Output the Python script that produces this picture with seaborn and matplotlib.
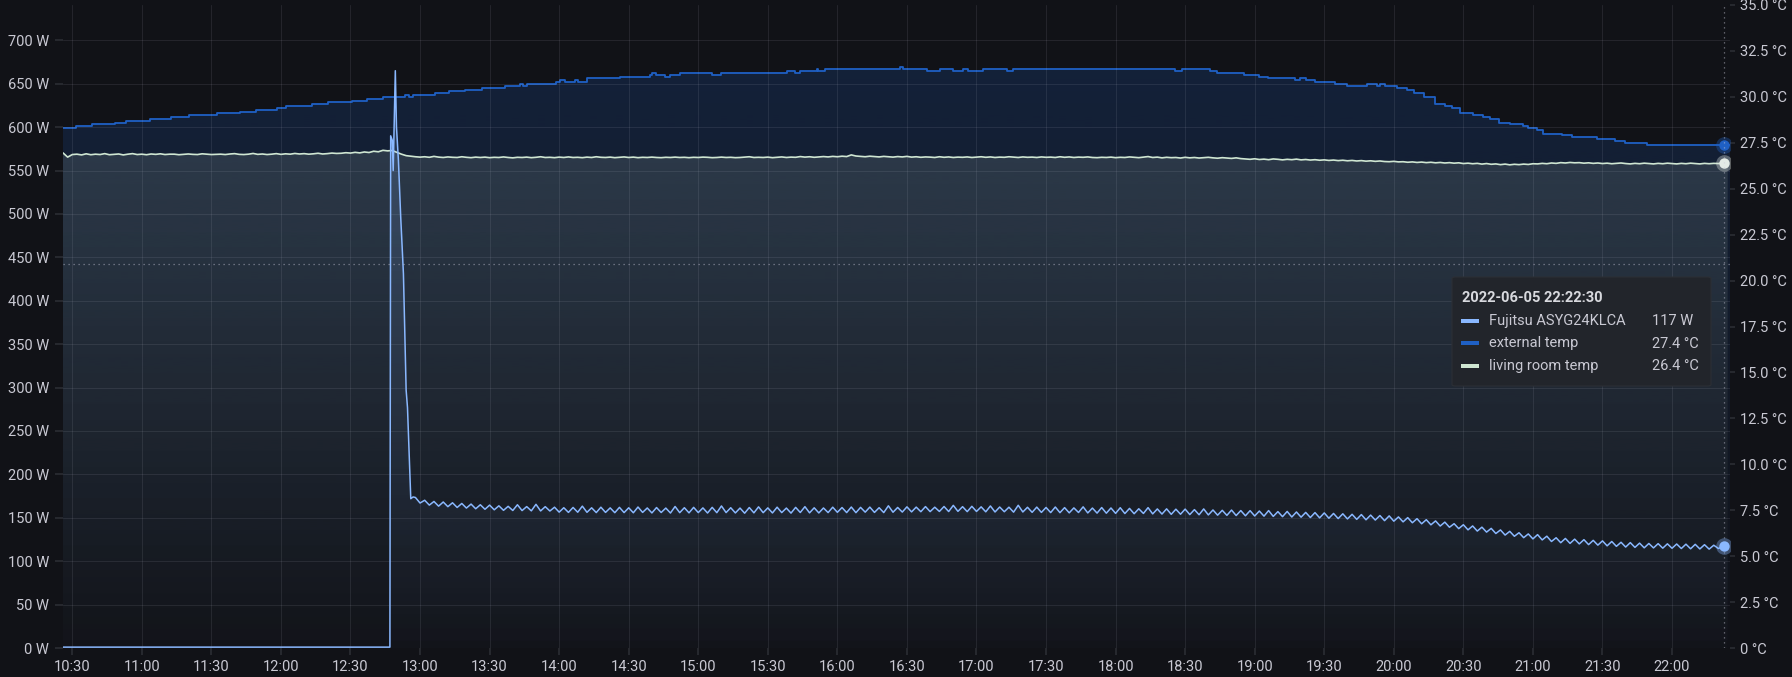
import numpy as np
import pandas as pd
import matplotlib
matplotlib.use('Agg')
import matplotlib.pyplot as plt
import matplotlib.dates as mdates
from matplotlib.colors import to_rgb
from matplotlib.patches import Rectangle, FancyBboxPatch
from matplotlib.ticker import FuncFormatter, MultipleLocator
import seaborn as sns


## data ...

DAY = '2022-06-05 '

## Fujitsu ASYG24KLCA power (W): idle, start-up spike, then 2 min samples from 12:58
power_spike_times = ['10:26:00', '12:47:00', '12:47:20', '12:48:00', '12:48:25', '12:48:50', '12:49:20',
                     '12:49:50', '12:50:40', '12:51:40', '12:52:50', '12:54:00', '12:54:35', '12:56:00',
                     '12:57:00']
power_spike_values = [1, 1, 590, 585, 550, 600, 665, 600, 562, 496, 431, 297, 277, 172, 174]
power_values = [
    173.4, 167.0, 170.2, 164.6, 168.8, 163.4, 168.2, 162.8, 167.3, 161.9, 166.5, 161.2, 165.8, 160.4, 165.0,
    159.8, 164.6, 159.2, 163.8, 158.6, 163.2, 158.4, 165.0, 158.3, 162.9, 158.0, 165.5, 157.9, 162.8, 157.8,
    162.2, 156.5, 161.6, 156.2, 161.9, 156.4, 163.4, 156.3, 161.5, 156.0, 162.2, 156.2, 161.4, 155.9, 162.0,
    156.0, 161.5, 155.8, 162.4, 156.2, 161.3, 155.6, 161.8, 156.1, 161.2, 155.5, 163.0, 155.9, 161.6, 155.7,
    162.0, 156.0, 161.4, 155.5, 162.0, 155.9, 163.6, 156.0, 161.6, 155.6, 161.2, 155.3, 161.8, 155.7, 162.6,
    155.9, 161.4, 155.6, 162.2, 156.0, 161.2, 155.4, 162.0, 156.1, 162.8, 155.7, 161.5, 155.6, 161.3, 156.0,
    162.2, 156.3, 161.8, 156.0, 162.4, 155.9, 162.0, 156.5, 162.3, 156.2, 161.6, 156.0, 163.8, 156.4, 161.9,
    156.6, 162.6, 156.8, 162.3, 157.0, 162.9, 157.1, 162.2, 157.3, 163.0, 157.2, 164.3, 157.4, 162.8, 157.1,
    163.2, 157.3, 162.6, 156.9, 163.6, 156.7, 162.4, 157.0, 162.2, 156.5, 164.4, 156.7, 162.1, 156.3, 162.3,
    156.2, 161.9, 156.0, 162.4, 155.9, 161.7, 155.7, 161.4, 156.1, 162.6, 155.6, 161.2, 155.4, 161.8, 155.3,
    161.3, 155.1, 161.6, 154.9, 160.8, 154.7, 160.4, 155.0, 161.7, 154.5, 160.2, 154.3, 160.3, 154.0, 159.9,
    154.1, 160.0, 153.7, 159.4, 153.5, 160.2, 153.3, 159.0, 153.0, 158.6, 152.8, 158.9, 152.6, 158.3, 152.3,
    158.2, 152.1, 157.8, 151.9, 158.3, 151.6, 157.1, 151.3, 157.3, 150.9, 156.7, 150.7, 156.2, 150.3, 156.0,
    149.9, 155.6, 149.5, 155.0, 149.1, 154.6, 148.7, 154.0, 148.2, 153.7, 147.7, 153.1, 147.4, 152.6, 146.7,
    152.2, 146.1, 151.0, 145.3, 150.2, 144.3, 149.0, 143.1, 147.8, 141.9, 146.4, 140.5, 145.0, 139.1, 143.2,
    137.5, 142.0, 136.1, 140.6, 134.7, 139.2, 133.5, 137.8, 131.9, 136.0, 130.1, 134.4, 128.7, 132.8, 127.1,
    131.4, 125.7, 130.6, 124.5, 128.8, 122.7, 127.0, 121.3, 126.2, 120.5, 125.4, 119.9, 124.8, 119.1, 124.0,
    118.5, 123.4, 117.7, 122.7, 117.1, 121.8, 116.3, 121.4, 115.9, 120.8, 115.4, 120.4, 115.3, 120.2, 115.0,
    120.0, 114.9, 119.8, 114.6, 119.6, 114.3, 119.4, 114.1, 119.0, 113.9, 118.4, 114.6, 117.0, 116.6,
]

## external temp (°C): value changes (step series)
ext_times = ['10:26:00', '10:31:40', '10:38:30', '10:48:30', '10:53:20', '11:03:40', '11:12:40', '11:20:30',
             '11:32:20', '11:42:20', '11:49:10', '11:58:20', '12:02:20', '12:13:20', '12:20:30', '12:30:40',
             '12:37:10', '12:44:10', '12:53:40', '12:55:20', '12:57:10', '13:06:30', '13:12:20', '13:19:30',
             '13:26:40', '13:36:40', '13:43:10', '13:44:30', '13:46:00', '13:58:40', '14:00:20', '14:02:40',
             '14:06:50', '14:08:10', '14:11:50', '14:26:20', '14:39:10', '14:40:10', '14:41:50', '14:45:40',
             '14:47:50', '14:52:10', '15:05:50', '15:09:50', '15:38:20', '15:41:50', '15:43:50', '15:51:00',
             '15:51:40', '15:54:40', '16:27:00', '16:28:20', '16:38:30', '16:44:20', '16:49:50', '16:54:10',
             '16:56:20', '17:02:50', '17:13:00', '17:15:50', '18:25:40', '18:28:30', '18:40:40', '18:43:40',
             '18:55:10', '19:01:40', '19:05:50', '19:17:20', '19:19:30', '19:22:20', '19:26:00', '19:34:40',
             '19:39:40', '19:48:20', '19:52:40', '19:54:00', '19:56:10', '20:01:20', '20:05:40', '20:08:30',
             '20:12:50', '20:17:50', '20:22:10', '20:25:00', '20:28:30', '20:34:20', '20:38:40', '20:41:30',
             '20:45:10', '20:50:10', '20:55:50', '20:58:00', '21:01:40', '21:04:30', '21:12:20', '21:16:40',
             '21:27:30', '21:35:20', '21:39:40', '21:49:00', '22:25:00']
ext_values = [28.3, 28.4, 28.5, 28.6, 28.7, 28.8, 28.9, 29.0,
              29.1, 29.2, 29.3, 29.4, 29.5, 29.6, 29.7, 29.8,
              29.9, 30.0, 30.1, 30.0, 30.1, 30.2, 30.3, 30.4,
              30.5, 30.6, 30.7, 30.6, 30.7, 30.8, 30.9, 30.8,
              30.9, 30.8, 31.0, 31.1, 31.2, 31.3, 31.2, 31.1,
              31.2, 31.3, 31.2, 31.3, 31.4, 31.3, 31.4, 31.5,
              31.4, 31.5, 31.6, 31.5, 31.4, 31.5, 31.4, 31.5,
              31.4, 31.5, 31.4, 31.5, 31.4, 31.5, 31.4, 31.3,
              31.2, 31.1, 31.0, 30.9, 31.0, 30.9, 30.8, 30.7,
              30.6, 30.7, 30.6, 30.7, 30.6, 30.5, 30.4, 30.2,
              30.0, 29.6, 29.5, 29.4, 29.1, 29.0, 28.9, 28.8,
              28.6, 28.5, 28.4, 28.3, 28.2, 28.0, 27.9, 27.8,
              27.7, 27.6, 27.5, 27.4, 27.4]

## living room temp (°C): 2 min samples from 10:26
living_values = [
    26.95, 26.72, 26.86, 26.88, 26.84, 26.90, 26.85, 26.88, 26.86, 26.91, 26.85, 26.87, 26.89, 26.84, 26.88,
    26.91, 26.86, 26.88, 26.85, 26.89, 26.87, 26.90, 26.86, 26.88, 26.88, 26.85, 26.87, 26.89, 26.87, 26.86,
    26.90, 26.88, 26.86, 26.87, 26.88, 26.86, 26.89, 26.91, 26.87, 26.86, 26.88, 26.92, 26.87, 26.89, 26.86,
    26.88, 26.91, 26.87, 26.90, 26.88, 26.92, 26.89, 26.91, 26.88, 26.90, 26.93, 26.89, 26.91, 26.94, 26.92,
    26.93, 26.96, 26.94, 26.98, 26.95, 27.00, 26.97, 27.04, 27.01, 27.09, 27.06, 27.08, 26.98, 26.88, 26.80,
    26.77, 26.74, 26.72, 26.74, 26.71, 26.76, 26.72, 26.70, 26.73, 26.71, 26.70, 26.74, 26.71, 26.69, 26.72,
    26.70, 26.72, 26.69, 26.71, 26.70, 26.73, 26.70, 26.68, 26.71, 26.70, 26.72, 26.69, 26.71, 26.74, 26.70,
    26.71, 26.69, 26.72, 26.70, 26.73, 26.70, 26.71, 26.69, 26.72, 26.70, 26.74, 26.71, 26.70, 26.72, 26.69,
    26.71, 26.73, 26.70, 26.72, 26.69, 26.71, 26.70, 26.72, 26.70, 26.69, 26.71, 26.70, 26.72, 26.70, 26.71,
    26.69, 26.71, 26.70, 26.72, 26.71, 26.69, 26.70, 26.72, 26.70, 26.71, 26.69, 26.70, 26.72, 26.74, 26.70,
    26.71, 26.70, 26.72, 26.69, 26.71, 26.73, 26.70, 26.72, 26.71, 26.75, 26.72, 26.74, 26.71, 26.73, 26.75,
    26.73, 26.76, 26.74, 26.77, 26.75, 26.84, 26.78, 26.76, 26.74, 26.77, 26.75, 26.73, 26.76, 26.74, 26.72,
    26.75, 26.73, 26.76, 26.72, 26.74, 26.71, 26.73, 26.72, 26.70, 26.74, 26.71, 26.73, 26.70, 26.72, 26.71,
    26.73, 26.70, 26.72, 26.74, 26.71, 26.73, 26.70, 26.72, 26.71, 26.74, 26.72, 26.70, 26.73, 26.71, 26.72,
    26.70, 26.73, 26.71, 26.72, 26.70, 26.74, 26.71, 26.73, 26.70, 26.72, 26.71, 26.73, 26.70, 26.69, 26.71,
    26.70, 26.72, 26.69, 26.71, 26.70, 26.73, 26.71, 26.69, 26.72, 26.75, 26.70, 26.72, 26.68, 26.71, 26.69,
    26.70, 26.67, 26.71, 26.68, 26.70, 26.67, 26.69, 26.71, 26.68, 26.66, 26.69, 26.67, 26.65, 26.68, 26.64,
    26.62, 26.60, 26.63, 26.59, 26.61, 26.58, 26.62, 26.60, 26.57, 26.60, 26.58, 26.61, 26.57, 26.59, 26.56,
    26.58, 26.55, 26.57, 26.54, 26.56, 26.53, 26.55, 26.52, 26.54, 26.51, 26.53, 26.50, 26.52, 26.49, 26.51,
    26.48, 26.47, 26.49, 26.46, 26.47, 26.44, 26.46, 26.43, 26.45, 26.42, 26.44, 26.41, 26.43, 26.40, 26.42,
    26.39, 26.41, 26.37, 26.39, 26.36, 26.38, 26.34, 26.37, 26.33, 26.35, 26.31, 26.34, 26.30, 26.33, 26.31,
    26.34, 26.32, 26.36, 26.35, 26.38, 26.36, 26.40, 26.38, 26.42, 26.40, 26.43, 26.41, 26.42, 26.39, 26.41,
    26.38, 26.40, 26.37, 26.39, 26.36, 26.38, 26.40, 26.37, 26.35, 26.38, 26.36, 26.39, 26.37, 26.35, 26.38,
    26.36, 26.39, 26.37, 26.35, 26.38, 26.36, 26.39, 26.37, 26.35, 26.38, 26.36, 26.38, 26.37, 26.40, 26.39,
]

## hover tooltip
cursor_time = '22:22:30'
cursor_power = 442
tooltip_title = '2022-06-05 22:22:30'
series_names = ['Fujitsu ASYG24KLCA', 'external temp', 'living room temp']
tooltip_values = [117, 27.4, 26.4]
tooltip_labels = ['117 W', '27.4 °C', '26.4 °C']


## build frames
power_df = pd.concat([
    pd.DataFrame({'time': pd.to_datetime([DAY + t for t in power_spike_times]), 'watts': power_spike_values}),
    pd.DataFrame({'time': pd.date_range(DAY + '12:58', periods=len(power_values), freq='2min'), 'watts': power_values}),
], ignore_index=True)
ext_df = pd.DataFrame({'time': pd.to_datetime([DAY + t for t in ext_times]), 'temp': ext_values})
living_df = pd.DataFrame({'time': pd.date_range(DAY + '10:26', periods=len(living_values), freq='2min'),
                          'temp': living_values})

## colours
BG = '#111217'
TEXT = '#c9c9d3'
GRID = '#2a2c32'
POWER_C = '#8ab8ff'
EXT_C = '#1f60c4'
LIVING_C = '#cfe6d2'
SERIES_C = [POWER_C, EXT_C, LIVING_C]

sns.set_theme(style='dark', rc={'axes.facecolor': BG, 'figure.facecolor': BG})
plt.rcParams['font.family'] = ['Roboto', 'DejaVu Sans']

W, H = 1792, 677
fig = plt.figure(figsize=(W / 100, H / 100), dpi=100, facecolor=BG)
ax = fig.add_axes([63 / W, (H - 648) / H, (1730 - 63) / W, (648 - 5) / H])
ax2 = ax.twinx()
ax.set_zorder(2)
ax2.set_zorder(1)
ax.patch.set_visible(False)
ax2.patch.set_visible(False)


def gradient_fill(axis, x, y, color, top_alpha, step=None):
    ## fill under a series, fading out towards the bottom of the panel
    poly = axis.fill_between(x, 0, y, step=step, facecolor='none', edgecolor='none')
    grad = np.zeros((256, 1, 4))
    grad[:, 0, :3] = to_rgb(color)
    grad[:, 0, 3] = np.linspace(top_alpha, 0.01, 256)
    im = axis.imshow(grad, extent=[0, 1, 0, 1], transform=axis.transAxes, aspect='auto',
                     origin='upper', interpolation='bilinear', zorder=1)
    im.set_clip_path(poly.get_paths()[0], axis.transData)


## temperatures (right axis)
gradient_fill(ax2, ext_df['time'], ext_df['temp'], EXT_C, 0.22, step='post')
gradient_fill(ax2, living_df['time'], living_df['temp'], LIVING_C, 0.17)
sns.lineplot(x=ext_df['time'], y=ext_df['temp'], ax=ax2, color=EXT_C, lw=1.3,
             estimator=None, drawstyle='steps-post', zorder=3)
sns.lineplot(x=living_df['time'], y=living_df['temp'], ax=ax2, color=LIVING_C, lw=1.2,
             estimator=None, zorder=3)

## power (left axis)
gradient_fill(ax, power_df['time'], power_df['watts'], POWER_C, 0.2)
sns.lineplot(x=power_df['time'], y=power_df['watts'], ax=ax, color=POWER_C, lw=1.1,
             estimator=None, sort=False, zorder=3)

## crosshair + hover points
t_cur = pd.Timestamp(DAY + cursor_time)
ax.axvline(t_cur, color='#ccccdc', alpha=0.55, lw=0.9, ls=(0, (1, 3)), zorder=4)
ax.axhline(cursor_power, color='#ccccdc', alpha=0.55, lw=0.9, ls=(0, (1, 3)), zorder=4)
for axis, val, col in [(ax, tooltip_values[0], POWER_C), (ax2, tooltip_values[1], EXT_C),
                       (ax2, tooltip_values[2], '#e4ebe6')]:
    axis.plot([t_cur], [val], 'o', ms=12, color=col, alpha=0.35, mec='none', zorder=5)
    axis.plot([t_cur], [val], 'o', ms=7.5, color=col, mec='none', zorder=6)

## axes, ticks, grid
ax.set_xlim(pd.Timestamp(DAY + '10:26'), pd.Timestamp(DAY + '22:25'))
ax.set_ylim(0, 740.7)
ax2.set_ylim(0, 35)
ax.yaxis.set_major_locator(MultipleLocator(50))
ax.yaxis.set_major_formatter(FuncFormatter(lambda v, p: f'{v:.0f} W'))
ax2.yaxis.set_major_locator(MultipleLocator(2.5))
ax2.yaxis.set_major_formatter(FuncFormatter(lambda v, p: '0 °C' if v == 0 else f'{v:.1f} °C'))
ax.xaxis.set_major_locator(mdates.MinuteLocator(byminute=[0, 30]))
ax.xaxis.set_major_formatter(mdates.DateFormatter('%H:%M'))
ax.set_xlabel('')
ax.set_ylabel('')
ax2.set_ylabel('')

ax.grid(True, color='#ccccdc', alpha=0.1, lw=0.8)
ax2.grid(False)
ax.tick_params(axis='y', left=True, length=5.8, pad=4.3, color=GRID, labelcolor=TEXT, labelsize=10.5)
ax.tick_params(axis='x', bottom=True, length=5, pad=3.5, color=GRID, labelcolor=TEXT, labelsize=10.5)
ax2.tick_params(axis='y', right=True, length=3.6, pad=3.8, color=GRID, labelcolor=TEXT, labelsize=10.5)
for a in (ax, ax2):
    for s in a.spines.values():
        s.set_visible(False)


## tooltip box
def fx(x):
    return x / W


def fy(y):
    return 1 - y / H


fig.patches.append(FancyBboxPatch((fx(1452), fy(386)), fx(1711) - fx(1452), fy(277) - fy(386),
                                  boxstyle='round,pad=0,rounding_size=0.002', transform=fig.transFigure,
                                  facecolor='#22252b', edgecolor='#2c2f35', lw=0.8, zorder=20))
fig.text(fx(1462), fy(298), tooltip_title, color='#d8d9de', fontsize=10.5, fontweight='bold',
         va='center', ha='left', zorder=21)
for i, (name, lab, col) in enumerate(zip(series_names, tooltip_labels, SERIES_C)):
    y = 321 + i * 22.5
    fig.patches.append(Rectangle((fx(1461), fy(y + 2)), fx(1479) - fx(1461), fy(y - 2) - fy(y + 2),
                                 transform=fig.transFigure, facecolor=col, edgecolor='none', zorder=21))
    fig.text(fx(1489), fy(y), name, color=TEXT, fontsize=10.5, va='center', ha='left', zorder=21)
    fig.text(fx(1652), fy(y), lab, color=TEXT, fontsize=10.5, va='center', ha='left', zorder=21)

plt.savefig('out.png', dpi=100, facecolor=BG)
